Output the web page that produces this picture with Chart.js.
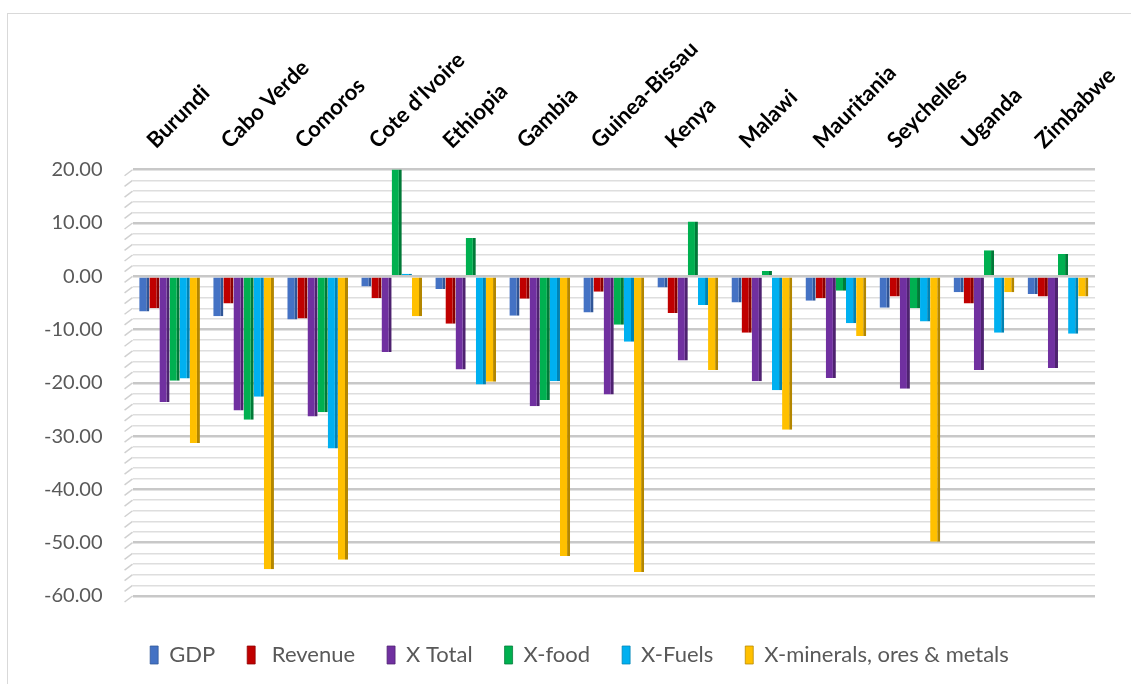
<!DOCTYPE html>
<html>
<head>
<meta charset="utf-8">
<script src="https://cdn.jsdelivr.net/npm/chart.js@4/dist/chart.umd.min.js"></script>
<style>
  html, body { margin: 0; padding: 0; background: #fff; }
  #wrap { position: relative; width: 1131px; height: 684px; overflow: hidden; }
  #frame { position: absolute; left: 7px; top: 13px; width: 1140px; height: 690px; border: 1px solid #d9d9d9; box-sizing: border-box; }
  canvas { position: absolute; left: 0; top: 0; }
</style>
</head>
<body>
<div id="wrap">
  <div id="frame"></div>
  <canvas id="chart" width="1131" height="684"></canvas>
</div>
<script>
// DATA
const countries = ["Burundi", "Cabo Verde", "Comoros", "Cote d'Ivoire", "Ethiopia", "Gambia",
    "Guinea-Bissau", "Kenya", "Malawi", "Mauritania", "Seychelles", "Uganda", "Zimbabwe"];

const gdp       = [-6.6, -7.5, -8.1, -1.9, -2.4, -7.4, -6.8, -2.1, -4.9, -4.6, -5.9, -3.0, -3.3];
const revenue   = [-6.0, -5.1, -7.9, -4.1, -8.9, -4.2, -2.9, -6.9, -10.6, -4.1, -3.8, -5.1, -3.8];
const xTotal    = [-23.6, -25.2, -26.3, -14.2, -17.5, -24.4, -22.2, -15.8, -19.7, -19.1, -21.1, -17.6, -17.2];
const xFood     = [-19.6, -26.9, -25.5, 20.2, 7.2, -23.2, -9.1, 10.3, 1.0, -2.7, -6.0, 4.9, 4.2];
const xFuels    = [-19.2, -22.6, -32.3, 0.5, -20.3, -19.7, -12.3, -5.4, -21.4, -8.8, -8.5, -10.6, -10.8];
const xMinerals = [-31.3, -55.0, -53.2, -7.5, -19.8, -52.5, -55.5, -17.6, -28.8, -11.2, -49.8, -3.0, -3.8];

const seriesNames = ["GDP", " Revenue", "X Total", "X-food", "X-Fuels", "X-minerals, ores & metals"];
const yMin = -60, yMax = 20;

// COLOURS (face, side)
const faces = ["#4472C4", "#C00000", "#7030A0", "#00B050", "#00B0F0", "#FFC000"];
const sides = ["#2F5597", "#8B0000", "#4E2270", "#007A38", "#0083B4", "#B38600"];

const values = [gdp, revenue, xTotal, xFood, xFuels, xMinerals];

const datasets = values.map((v, i) => ({
    label: seriesNames[i],
    data: v,
    backgroundColor: faces[i],
    borderColor: sides[i],
    borderWidth: { right: 3, left: 0, top: 0, bottom: 0 },
    borderSkipped: false,
    barPercentage: 1.0,
    categoryPercentage: 0.82
}));

// small slanted ticks on the left wall, like the 3D original
const wallTicks = {
    id: "wallTicks",
    afterDraw(chart) {
        const y = chart.scales.y, ctx = chart.ctx, left = chart.chartArea.left;
        ctx.save();
        ctx.strokeStyle = "#d0d0d0";
        ctx.lineWidth = 1.5;
        y.ticks.forEach(t => {
            const py = y.getPixelForValue(t.value);
            ctx.beginPath();
            ctx.moveTo(left - 8, py + 6);
            ctx.lineTo(left, py);
            ctx.stroke();
        });
        ctx.restore();
    }
};

// nudge the legend a little to the right, as in the original
const legendShift = {
    id: "legendShift",
    afterLayout(chart) {
        chart.legend.left += 25;
        chart.legend.right += 25;
    }
};

new Chart(document.getElementById("chart"), {
    type: "bar",
    data: { labels: countries, datasets: datasets },
    plugins: [wallTicks, legendShift],
    options: {
        responsive: false,
        animation: false,
        layout: { padding: { left: 14, right: 36, top: 28, bottom: 8 } },
        plugins: {
            tooltip: { enabled: false },
            legend: {
                position: "bottom",
                labels: {
                    boxWidth: 8,
                    boxHeight: 18,
                    padding: 32,
                    color: "#595959",
                    font: { family: "Lato", size: 22 }
                }
            }
        },
        scales: {
            x: {
                position: "top",
                grid: { display: false },
                border: { display: false },
                afterFit: s => { s.paddingLeft = 0; s.paddingRight = 0; },
                ticks: {
                    minRotation: 45,
                    maxRotation: 45,
                    color: "#000",
                    padding: 8,
                    font: { family: "Lato", size: 22, weight: "bold" }
                }
            },
            gap: {
                type: "category",
                position: "bottom",
                grid: { display: false },
                border: { display: false },
                ticks: { display: false },
                afterFit: s => { s.height = 16; }
            },
            y: {
                min: yMin,
                max: yMax,
                border: { display: false },
                grid: {
                    color: ctx => (ctx.tick.value % 10 === 0 ? "#c8c8c8" : "#dedede"),
                    lineWidth: ctx => (ctx.tick.value % 10 === 0 ? 2.5 : 1.5),
                    drawTicks: false
                },
                ticks: {
                    stepSize: 2,
                    autoSkip: false,
                    padding: 30,
                    color: "#595959",
                    font: { family: "Lato", size: 20 },
                    callback: v => (v % 10 === 0 ? v.toFixed(2) : "")
                }
            }
        }
    }
});
</script>
</body>
</html>
